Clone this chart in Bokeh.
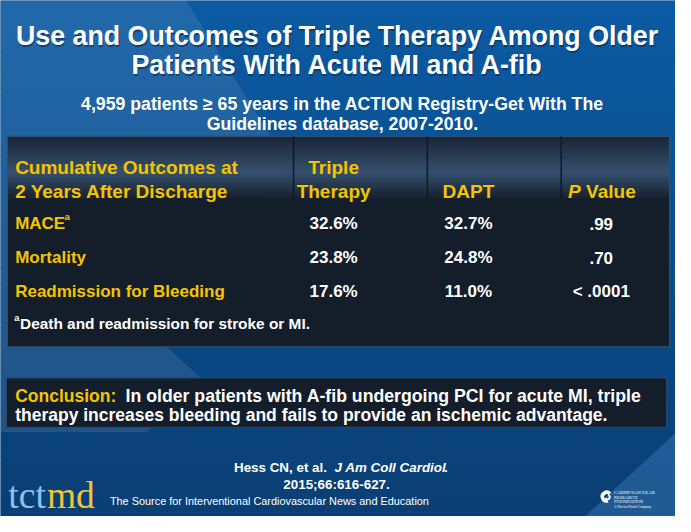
from bokeh.plotting import figure
from bokeh.models import Range1d
from bokeh.core.properties import value
from bokeh.embed import file_html
from bokeh.resources import INLINE

# ---------------- data ----------------
title_lines = ["Use and Outcomes of Triple Therapy Among Older",
               "Patients With Acute MI and A-fib"]
subtitle_lines = ["4,959 patients \u2265 65 years in the ACTION Registry-Get With The",
                  "Guidelines database, 2007-2010."]
header_first = ["Cumulative Outcomes at", "2 Years After Discharge"]
triple_header = ["Triple", "Therapy"]
dapt_header = "DAPT"
p_header = ["P", "Value"]
outcomes = ["MACE", "Mortality", "Readmission for Bleeding"]
triple_therapy = [32.6, 23.8, 17.6]
dapt = [32.7, 24.8, 11.0]
p_values = [".99", ".70", "< .0001"]
footnote = "Death and readmission for stroke or MI."
conclusion_label = "Conclusion:"
conclusion_lines = ["In older patients with A-fib undergoing PCI for acute MI, triple",
                    "therapy increases bleeding and fails to provide an ischemic advantage."]
citation_lines = ["Hess CN, et al.", "J Am Coll Cardiol", ".", "2015;66:616-627."]
tagline = "The Source for Interventional Cardiovascular News and Education"
crf_lines = ["CARDIOVASCULAR", "RESEARCH", "FOUNDATION", "A Not-for-Profit Company"]

# ---------------- figure ----------------
W, H = 675, 516
RW, RH = 691, 532
FS = (W / RW + H / RH) / 2
FONT = "Liberation Sans"
YELLOW = "#f5c400"

p = figure(width=W, height=H, x_range=Range1d(0, RW), y_range=Range1d(RH, 0),
           output_backend="svg", toolbar_location=None, min_border=0)
p.axis.visible = False
p.grid.visible = False
p.outline_line_color = None
p.background_fill_color = "#0b4f8f"
p.border_fill_color = "#0b4f8f"


def hexmix(c1, c2, t):
    a = [int(c1[i:i + 2], 16) for i in (1, 3, 5)]
    b = [int(c2[i:i + 2], 16) for i in (1, 3, 5)]
    return "#%02x%02x%02x" % tuple(int(round(a[k] + (b[k] - a[k]) * t)) for k in range(3))


def txt(x, y, t, size, color="white", style="bold", align="left", font=FONT, alpha=1.0):
    p.text(x=[x], y=[y], text=[t], text_font=value(font),
           text_font_size=value(f"{size * FS:.1f}px"), text_font_style=style,
           text_color=color, text_align=align, text_baseline="alphabetic", text_alpha=alpha)


# background gradient
n = 60
tops = [RH * i / n for i in range(n)]
bots = [RH * (i + 1) / n + 0.6 for i in range(n)]
cols = [hexmix("#0b5aa3", "#0a3f74", i / (n - 1)) for i in range(n)]
p.quad(left=0, right=RW, top=tops, bottom=bots, fill_color=cols, line_color=None)

# lighter diagonal regions
p.patch(x=[0, 190, 292, 170, 208, 150, 0], y=[0, 0, 165, 357, 392, 445, 445],
        fill_color="#ffffff", fill_alpha=0.09, line_color=None)
p.patch(x=[691, 691, 598], y=[446, 532, 532], fill_color="#4a8ccc", fill_alpha=0.35,
        line_color=None)

# title + subtitle
for i, line in enumerate(title_lines):
    yb = 37 + 30 * i
    txt(346, yb + 1.2, line, 27.5, color="#062c55", align="center", alpha=0.6)
    txt(345, yb, line, 27.5, align="center")
for i, line in enumerate(subtitle_lines):
    txt(350, 107 + 20 * i, line, 18.2, align="center")

# table box
TL, TR, TT, TM, TB = 7, 685, 140, 204, 357
nh = 32
htops = [TT + (TM - TT) * i / nh for i in range(nh)]
hbots = [TT + (TM - TT) * (i + 1) / nh + 0.5 for i in range(nh)]
hcols = []
for i in range(nh):
    t = i / (nh - 1)
    if t < 0.58:
        hcols.append(hexmix("#1b2535", "#34506e", t / 0.58))
    else:
        hcols.append(hexmix("#34506e", "#19222f", (t - 0.58) / 0.42))
p.quad(left=TL, right=TR, top=htops, bottom=hbots, fill_color=hcols, line_color=None)
p.quad(left=TL, right=TR, top=TM, bottom=TB, fill_color="#141d2a", line_color=None)
p.quad(left=TL, right=TR, top=TT, bottom=TB, fill_color=None, line_color="#34506d",
       line_width=1.2)
for xd in (300, 437, 574):
    p.segment(x0=xd, y0=TT, x1=xd, y1=TM, line_color="#111925", line_width=1.5)

# header text
for i, line in enumerate(header_first):
    txt(15, 172 + 24.5 * i, line, 19.5, color=YELLOW)
for i, line in enumerate(triple_header):
    txt(341, 172 + 24.5 * i, line, 19.5, color=YELLOW, align="center")
txt(479, 196.5, dapt_header, 19.5, color=YELLOW, align="center")
txt(581, 196.5, p_header[0], 19.5, color=YELLOW, style="bold italic")
txt(599.5, 196.5, p_header[1], 19.5, color=YELLOW)

# rows
for i, name in enumerate(outcomes):
    yb = 230 + 35 * i
    txt(15, yb, name, 17.5, color=YELLOW)
    txt(341, yb, f"{triple_therapy[i]:.1f}%", 17.5, align="center")
    txt(479, yb, f"{dapt[i]:.1f}%", 17.5, align="center")
    txt(615, yb, p_values[i], 17.5, align="center")
txt(65.5, 223, "a", 10, color=YELLOW)

# footnote
txt(14, 327, "a", 9.5)
txt(20, 333, footnote, 15.8)

# conclusion box
p.quad(left=6, right=682, top=389, bottom=440, fill_color="#141d2a",
       line_color="#2c4a6c", line_width=1.2)
txt(15, 408, conclusion_label, 18, color=YELLOW)
txt(128, 408, conclusion_lines[0], 18.2)
txt(15, 427, conclusion_lines[1], 18)

# citation
txt(239, 481, citation_lines[0], 13.8)
txt(342, 481, citation_lines[1], 13.8, style="bold italic")
txt(454, 481, citation_lines[2], 13.8)
txt(344, 499, citation_lines[3], 13.8, align="center")

# tctmd logo
txt(8, 510, "tct", 38.5, color="#8cc2ec", style="normal", font="Liberation Serif")
txt(47.5, 510, "md", 38.5, color="#f0c43a", style="normal", font="Liberation Serif")
txt(112, 516, tagline, 11.2, style="normal")

# CRF logo
p.annular_wedge(x=[620.5], y=[511.5], inner_radius=2.6, outer_radius=6.2,
                start_angle=0.7, end_angle=5.0, fill_color="white", line_color=None)
p.annular_wedge(x=[621.5], y=[512.0], inner_radius=1.2, outer_radius=3.2,
                start_angle=3.6, end_angle=1.2, fill_color="white", line_color=None)
for i, line in enumerate(crf_lines[:3]):
    txt(628, 507.5 + 4.6 * i, line, 4.6, style="normal", font="Liberation Serif")
txt(628, 522, crf_lines[3], 3.6, style="normal", font="Liberation Serif")

open("out.html", "w").write(file_html(p, INLINE))
